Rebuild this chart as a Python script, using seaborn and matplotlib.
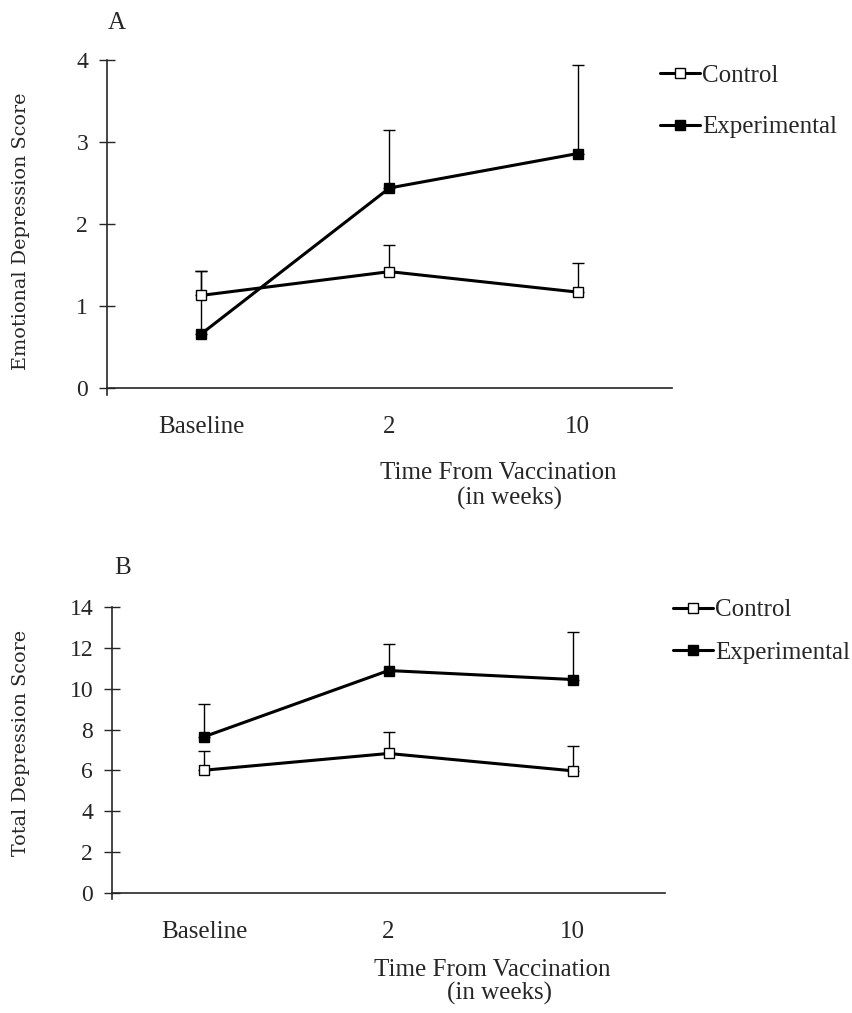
import numpy as np
import pandas as pd
import matplotlib
matplotlib.use("Agg")
import matplotlib.pyplot as plt
import seaborn as sns

# 数据
times = ["Baseline", "2", "10"]
groups = ["Control", "Experimental"]

emo_control = [1.13, 1.42, 1.17]
emo_control_err = [0.30, 0.32, 0.36]
emo_exp = [0.66, 2.44, 2.86]
emo_exp_err = [0.77, 0.71, 1.08]

tot_control = [6.01, 6.83, 5.98]
tot_control_err = [0.93, 1.07, 1.22]
tot_exp = [7.65, 10.89, 10.45]
tot_exp_err = [1.59, 1.28, 2.32]

sns.set_style("ticks")
plt.rcParams['font.family'] = ['Liberation Serif', 'DejaVu Serif']

W, H = 853, 1013
fig = plt.figure(figsize=(W / 100, H / 100), dpi=100)


def fx(px):
    return px / W


def fy(py):
    return 1 - py / H


def draw_panel(ax, ctrl, ctrl_err, exp, exp_err, ymax, step, ylabel, ylab_pos,
               leg_pos, leg_space):
    x = np.arange(len(times))
    df = pd.DataFrame({
        "x": np.tile(x, 2),
        "score": ctrl + exp,
        "err": ctrl_err + exp_err,
        "group": np.repeat(groups, len(times)),
    })
    for g, face in zip(groups, ["white", "black"]):
        sub = df[df["group"] == g]
        # 只画向上的误差线
        ax.errorbar(sub["x"], sub["score"], yerr=[np.zeros(len(sub)), sub["err"]],
                    fmt="none", ecolor="black", elinewidth=1.0, capsize=4,
                    capthick=1.0, zorder=1)
        sns.lineplot(data=sub, x="x", y="score", ax=ax, color="black", lw=2.2,
                     marker="s", markersize=7, markerfacecolor=face,
                     markeredgecolor="black", markeredgewidth=1.0,
                     errorbar=None, label=g, zorder=3)

    # 先设置坐标轴位置，再设置刻度（set_position 会重置刻度）
    sns.despine(ax=ax)
    ax.spines["bottom"].set_position(("data", 0))
    ax.spines["bottom"].set_linewidth(1.2)
    ax.spines["left"].set_linewidth(1.2)

    ax.set_xlim(-0.5, 2.5)
    ax.set_ylim(-ymax * 0.021, ymax)
    yt = np.arange(0, ymax + step / 2, step)
    ax.set_yticks(yt)
    ax.set_yticklabels([str(int(v)) for v in yt], fontsize=17)
    ax.set_xticks(x)
    ax.set_xticklabels(times, fontsize=18)
    ax.tick_params(axis="x", length=0, pad=20)
    ax.tick_params(axis="y", direction="inout", length=11, width=1.0, pad=8)

    ax.set_xlabel("")
    ax.set_ylabel(ylabel, family="DejaVu Serif", fontsize=13.8)
    ax.yaxis.set_label_coords(*ylab_pos)

    handles, labels = ax.get_legend_handles_labels()
    ax.legend(handles, labels, loc="upper left", bbox_to_anchor=leg_pos,
              bbox_transform=fig.transFigure, frameon=False, fontsize=18,
              borderpad=0, borderaxespad=0, handlelength=1.6,
              handletextpad=0.1, labelspacing=leg_space)


# A: 情绪抑郁分数
axA = fig.add_axes([fx(107), fy(395), fx(672) - fx(107), fy(60) - fy(395)])
draw_panel(axA, emo_control, emo_control_err, emo_exp, emo_exp_err, 4, 1,
           "Emotional Depression Score", (-0.136, 0.49), (fx(660), fy(64)), 1.18)

# B: 总抑郁分数
axB = fig.add_axes([fx(112), fy(899), fx(665) - fx(112), fy(607) - fy(899)])
draw_panel(axB, tot_control, tot_control_err, tot_exp, tot_exp_err, 14, 2,
           "Total Depression Score", (-0.148, 0.534), (fx(673), fy(599)), 0.78)

fig.text(fx(117), fy(23), "A", fontsize=18, ha="center", va="center")
fig.text(fx(123), fy(568), "B", fontsize=18, ha="center", va="center")

fig.text(fx(498), fy(473), "Time From Vaccination", fontsize=18, ha="center", va="center")
fig.text(fx(510), fy(498), "(in weeks)", fontsize=18, ha="center", va="center")
fig.text(fx(492), fy(970), "Time From Vaccination", fontsize=18, ha="center", va="center")
fig.text(fx(500), fy(993), "(in weeks)", fontsize=18, ha="center", va="center")

fig.savefig("out.png", dpi=100)
